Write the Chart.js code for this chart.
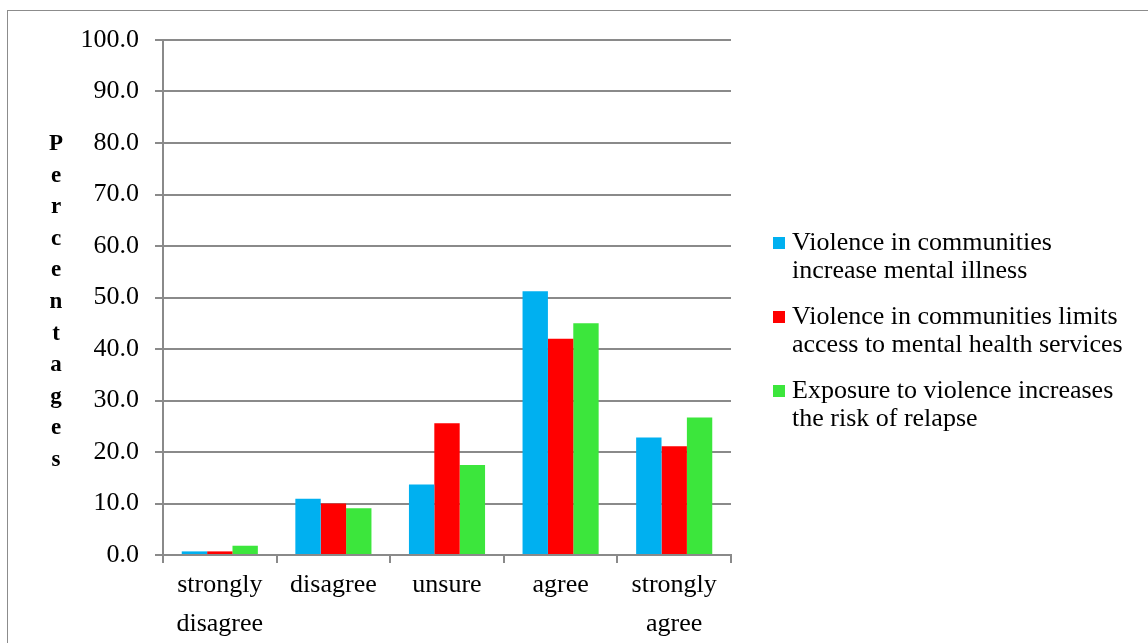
<!DOCTYPE html>
<html>
<head>
    <title>Violence and mental health</title>
    <script src="https://cdn.jsdelivr.net/npm/chart.js"></script>
    <style>
        body {
            margin: 0;
            background-color: #ffffff;
            font-family: "Liberation Serif", "Times New Roman", serif;
        }
        #frame {
            position: absolute;
            left: 7px;
            top: 10px;
            width: 1160px;
            height: 660px;
            border: 1px solid #8c8c8c;
        }
        #wrap {
            position: absolute;
            left: 0;
            top: 0;
            width: 1148px;
            height: 643px;
        }
        #legend {
            position: absolute;
            left: 773px;
            top: 228px;
            font-size: 26px;
            line-height: 28px;
            color: #000000;
        }
        .item {
            display: flex;
            margin-bottom: 18px;
        }
        .box {
            width: 12px;
            height: 12px;
            margin-top: 9px;
            margin-right: 7px;
            flex: none;
        }
    </style>
</head>
<body>
    <div id="frame"></div>
    <div id="wrap"><canvas id="chart" width="1148" height="643"></canvas></div>
    <div id="legend"></div>

    <script>
        // dane
        const categories = [["strongly", "disagree"], "disagree", "unsure", "agree", ["strongly", "agree"]];
        const seriesNames = [
            ["Violence in communities", "increase mental illness"],
            ["Violence in communities limits", "access to mental health services"],
            ["Exposure to violence increases", "the risk of relapse"]
        ];
        const mentalIllness = [0.7, 10.9, 13.7, 51.2, 22.8];
        const limitsAccess = [0.7, 10.0, 25.6, 42.0, 21.1];
        const relapseRisk = [1.8, 9.1, 17.5, 45.0, 26.7];
        const colors = ['#00b0f0', '#ff0000', '#3ce63c'];
        const yTitle = "Percentages";

        const serif = '"Liberation Serif", "Times New Roman", serif';

        // pionowy tytuł osi Y, litera pod literą
        const yTitlePlugin = {
            id: 'yTitle',
            afterDraw(chart) {
                const ctx = chart.ctx;
                ctx.save();
                ctx.font = 'bold 23px ' + serif;
                ctx.fillStyle = '#000000';
                ctx.textAlign = 'center';
                ctx.textBaseline = 'middle';
                for (let i = 0; i < yTitle.length; i++) {
                    ctx.fillText(yTitle[i], 56, 144 + i * 31.6);
                }
                ctx.restore();
            }
        };

        const data = [mentalIllness, limitsAccess, relapseRisk];
        const ctx = document.getElementById('chart').getContext('2d');
        const chart = new Chart(ctx, {
            type: 'bar',
            data: {
                labels: categories,
                datasets: data.map((d, i) => ({
                    label: seriesNames[i].join(' '),
                    data: d,
                    backgroundColor: colors[i],
                    borderWidth: 0,
                    categoryPercentage: 0.67,
                    barPercentage: 1
                }))
            },
            options: {
                responsive: false,
                animation: false,
                layout: {
                    padding: { left: 0, top: 40, right: 417, bottom: 0 }
                },
                scales: {
                    y: {
                        min: 0,
                        max: 100,
                        afterFit(scale) { scale.width = 163; },
                        ticks: {
                            stepSize: 10,
                            color: '#000000',
                            padding: 16,
                            font: { family: serif, size: 26 },
                            callback: v => v.toFixed(1)
                        },
                        grid: {
                            color: '#8a8a8a',
                            lineWidth: 2,
                            tickLength: 8
                        },
                        border: { color: '#8a8a8a', width: 2 }
                    },
                    x: {
                        afterFit(scale) { scale.height = 88; },
                        ticks: {
                            color: '#000000',
                            padding: 3,
                            maxRotation: 0,
                            font: { family: serif, size: 26, lineHeight: 1.5 }
                        },
                        grid: {
                            offset: true,
                            drawOnChartArea: false,
                            color: '#8a8a8a',
                            lineWidth: 2,
                            tickLength: 8
                        },
                        border: { color: '#8a8a8a', width: 2 }
                    }
                },
                plugins: {
                    legend: { display: false },
                    tooltip: { enabled: false }
                }
            },
            plugins: [yTitlePlugin]
        });

        // legenda w HTML, bo etykiety są wielowierszowe
        const legend = document.getElementById('legend');
        seriesNames.forEach((name, i) => {
            const item = document.createElement('div');
            item.className = 'item';
            item.innerHTML = '<div class="box" style="background:' + colors[i] + '"></div><div>' + name.join('<br>') + '</div>';
            legend.appendChild(item);
        });
    </script>
</body>
</html>
